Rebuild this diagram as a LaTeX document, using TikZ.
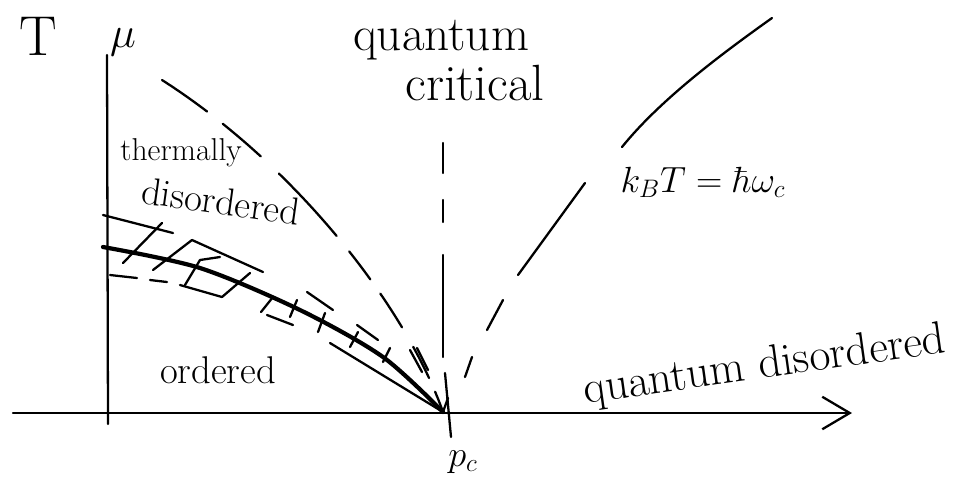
\documentclass[tikz,border=0pt]{standalone}
\usetikzlibrary{arrows.meta}
\begin{document}
\begin{tikzpicture}[x=0.02cm,y=-0.02cm,
  pen/.style={line width=1.3pt, line cap=round, line join=round},
  boundary/.style={line width=2.4pt, line cap=round},
  hand/.style={inner sep=0pt},
  fs/.style={font=\fontsize{#1}{#1}\selectfont}]
\useasboundingbox[fill=white] (0,0) rectangle (963,485);
% key points
\coordinate (O) at (107,412);
\coordinate (pc) at (443,412);
\coordinate (ytop) at (107,55);
\coordinate (ybot) at (108,424);
\coordinate (xleft) at (13,413);
\coordinate (xright) at (852,413);
% axes
\draw[pen] (ybot) -- (ytop);
\draw[pen, -{Straight Barb[length=0.55cm,width=0.65cm,line width=1.3pt]}] (xleft) -- (xright);
% vertical dashed line above p_c
\draw[pen] (443,143) -- (443,173);
\draw[pen] (443,200) -- (443,222);
\draw[pen] (443,255) -- (443,357);
\draw[pen] (445,373) -- (451,437);
% left crossover (dashed)
\draw[pen, dash pattern=on 1.1cm off 0.4cm on 1.0cm off 0.5cm on 1.7cm off 0.4cm on 0.7cm off 0.35cm on 0.8cm off 0.45cm on 0.7cm off 0.3cm]
  (162,80) .. controls (295,165) and (405,305) .. (pc);
% right crossover
\draw[pen] (pc) -- (448,398);
\draw[pen] (465,377) -- (472,357);
\draw[pen] (487,330) -- (503,300);
\draw[pen] (518,275) -- (585,183);
\draw[pen] (622,147) .. controls (660,100) and (720,55) .. (772,18);
% phase boundary
\draw[boundary] plot[smooth] coordinates {(103,247) (200,268) (300,310) (383,357) (pc)};
% upper edge of critical region
\draw[pen] (103,215) -- (173,233);
\draw[pen] (192,240) -- (263,272);
\draw[pen] (307,292) -- (333,310);
\draw[pen] (357,325) -- (378,340);
\draw[pen] (410,350) -- (422,372);
\draw[pen] (417,348) -- (428,370);
% lower edge of critical region
\draw[pen] (110,275) -- (137,278);
\draw[pen] (150,280) -- (167,282);
\draw[pen] (180,285) -- (222,297);
\draw[pen] (267,315) -- (293,325);
\draw[pen] (330,343) -- (pc);
% hatching
\draw[pen] (123,263) -- (162,223);
\draw[pen] (153,270) -- (192,240);
\draw[pen] (185,285) -- (200,260) -- (220,257);
\draw[pen] (222,297) -- (250,273);
\draw[pen] (261,312) -- (273,297);
\draw[pen] (290,317) -- (297,300);
\draw[pen] (318,332) -- (325,313);
\draw[pen] (350,347) -- (358,332);
\draw[pen] (383,362) -- (390,348);
% labels
\node[hand, fs=32] (Tlab) at (38,36) {T};
\node[hand, fs=30] (mulab) at (123,42) {$\mu$};
\node[hand, fs=28, anchor=base] (qlab) at (441,50) {quantum};
\node[hand, fs=29, anchor=base] (clab) at (475,100) {critical};
\node[hand, fs=22, anchor=base] (kT) at (703,192) {$k_BT=\hbar\omega_c$};
\node[hand, fs=18, anchor=base west] (therm) at (120,160) {thermally};
\node[hand, fs=22, anchor=base west, rotate=-8] (tdis) at (140,203) {disordered};
\node[hand, fs=22, anchor=base] (ord) at (218,383) {ordered};
\node[hand, fs=26, anchor=base, rotate=8] (qdis) at (766,378) {quantum disordered};
\node[hand, fs=22] (pclab) at (463,462) {$p_c$};
\end{tikzpicture}
\end{document}
